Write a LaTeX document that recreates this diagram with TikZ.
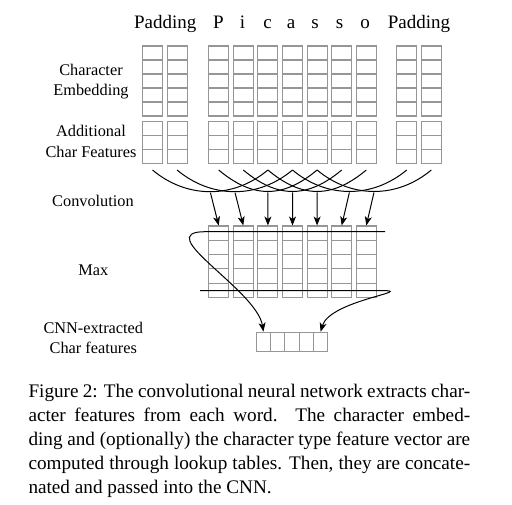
\documentclass[tikz,border=0pt]{standalone}
\usepackage{fontspec}
\setmainfont{Liberation Serif}
\usetikzlibrary{arrows.meta}
\definecolor{cellgray}{RGB}{150,150,150}
\begin{document}
\begin{tikzpicture}[x=1pt,y=-1pt,
  cell/.style={draw=cellgray,line width=1.1pt},
  conn/.style={line width=1pt},
  arr/.style={line width=1pt,-{Stealth[length=9pt,width=7pt,inset=2.5pt]}},
  toplab/.style={font=\fontsize{19}{23}\selectfont,anchor=base,inner sep=0pt},
  sidelab/.style={font=\fontsize{16.3}{20}\selectfont,anchor=base,inner sep=0pt},
  caplab/.style={font=\fontsize{19.2}{23.9}\selectfont,anchor=base west,inner sep=0pt}]
\useasboundingbox (0,0) rectangle (512,504);

% top labels
\node[toplab] (pad1) at (165.3,28.3) {Padding};
\node[toplab] (pad2) at (419,28.3) {Padding};
\foreach \ch/\xx [count=\i] in {P/218.5,i/242.5,c/267.5,a/291,s/315,s/339.5,o/365}
  \node[toplab] (ch\i) at (\xx,28.3) {\ch};

% side labels
\node[sidelab] (lce1) at (91,75.7) {Character};
\node[sidelab] (lce2) at (91,95.3) {Embedding};
\node[sidelab] (lcf1) at (91,136) {Additional};
\node[sidelab] (lcf2) at (91,157.3) {Char Features};
\node[sidelab] (lconv) at (93,206.7) {Convolution};
\node[sidelab] (lmax) at (93.3,275.7) {Max};
\node[sidelab] (lout1) at (93.3,333.3) {CNN-extracted};
\node[sidelab] (lout2) at (93.3,353.3) {Char features};

% input columns
\foreach \x [count=\i] in {142.5,167.1,208.7,233.3,257.9,282.5,307.1,331.7,356.3,396.7,421.3} {
  \foreach \r in {0,...,4}
    \draw[cell] (\x,{46+14*\r}) rectangle +(20,14);
  \foreach \r in {0,...,2}
    \draw[cell] (\x,{121.7+14*\r}) rectangle +(20,14);
  \coordinate (b\i) at (\x+10,170);
}

% max-layer columns
\foreach \x [count=\k] in {208.7,233.3,257.9,282.5,307.1,331.7,356.3} {
  \foreach \r in {0,...,4}
    \draw[cell] (\x,{226+14.3*\r}) rectangle +(20,14.3);
  \coordinate (t\k) at (\x+10,225.5);
}

% convolution arcs
\draw[conn] (b1) to[bend right=40] coordinate[pos=0.5] (m1) (b5);
\draw[conn] (b2) to[bend right=40] coordinate[pos=0.5] (m2) (b6);
\draw[conn] (b3) to[bend right=40,looseness=1.16] coordinate[pos=0.5] (m3) (b7);
\draw[conn] (b4) to[bend right=40,looseness=1.16] coordinate[pos=0.5] (m4) (b8);
\draw[conn] (b5) to[bend right=40,looseness=1.16] coordinate[pos=0.5] (m5) (b9);
\draw[conn] (b6) to[bend right=40] coordinate[pos=0.5] (m6) (b10);
\draw[conn] (b7) to[bend right=40] coordinate[pos=0.5] (m7) (b11);
\foreach \k in {1,...,7}
  \draw[arr,shorten <=1pt] (m\k) -- (t\k);

% output vector
\foreach \i in {1,...,5}
  \node[cell,minimum width=14.3pt,minimum height=19pt,inner sep=0pt,anchor=north west]
    (o\i) at ({255.7+14.3*(\i-1)},331.7) {};

% max lines
\coordinate (tr) at (385,231.7);
\coordinate (tl) at (205,231.7);
\coordinate (bl) at (200,290.5);
\coordinate (br) at (380,290.5);
\draw[arr] (tr) -- (tl) .. controls (150,231.7) and (257,290) .. (o1.north);
\draw[arr] (bl) -- (br) .. controls (420,290.5) and (330,300) .. (o5.north);

% caption
\node[caplab] (cap1) at (28.3,397.7) {\makebox[441.7pt][s]{Figure 2: The convolutional neural network extracts char-}};
\node[caplab] (cap2) at (28.3,421.6) {\makebox[441.7pt][s]{acter features from each word.  The character embed-}};
\node[caplab] (cap3) at (28.3,445.5) {\makebox[441.7pt][s]{ding and (optionally) the character type feature vector are}};
\node[caplab] (cap4) at (28.3,469.4) {\makebox[441.7pt][s]{computed through lookup tables. Then, they are concate-}};
\node[caplab] (cap5) at (28.3,493.3) {nated and passed into the CNN.};
\end{tikzpicture}
\end{document}
